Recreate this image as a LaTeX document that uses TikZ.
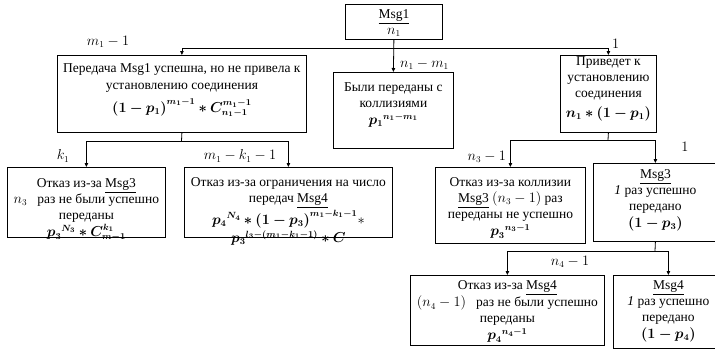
\documentclass[tikz,border=0pt]{standalone}
\usepackage{fontspec}
\setmainfont{Liberation Serif}
\usepackage{amsmath,bm}
\usetikzlibrary{arrows.meta}
\newcommand{\bxt}[4]{\parbox[c][#2pt][t]{#1pt}{\centering\vspace*{#3pt}#4\par}}
\begin{document}
\begin{tikzpicture}[x=1pt,y=-1pt,
  every node/.style={font=\fontsize{13.5}{16}\selectfont},
  box/.style={draw, line width=0.8pt, inner sep=0pt, anchor=north west},
  arr/.style={-{Triangle[length=4pt,width=3.5pt]}, line width=0.8pt},
  ln/.style={line width=0.8pt},
  lbl/.style={inner sep=0pt}]
\useasboundingbox (0,0) rectangle (715,351);
% boxes
\node[box] (msg1) at (345,4) {\bxt{97}{35}{5}{\underline{Msg1}\\ $n_1$}};
\node[box] (left) at (57,55) {\bxt{249}{77}{8}{Передача Msg1 успешна, но не привела к\\[1.5pt] установлению соединения\\[5pt] $\bm{(1-p_1)^{m_1-1} * C^{m_1-1}_{n_1-1}}$}};
\node[box] (mid) at (333,72) {\bxt{120}{76}{10}{Были переданы с\\ коллизиями\\[1pt] $\bm{{p_1}^{n_1-m_1}}$}};
\node[box] (right) at (560,55) {\bxt{96}{77}{1}{Приведет к\\ установлению\\ соединения\\[4pt] $\bm{n_1 * (1-p_1)}$}};
\node[box] (ll) at (7,167) {\bxt{158}{70}{11}{Отказ из-за \underline{Msg3}\\ $n_3$\ \ \ раз не были успешно\\ переданы\\[1.5pt] $\bm{{p_3}^{N_3} * C^{k_1}_{m-1}}$}};
\node[box] (lm) at (184,167) {\bxt{208}{70}{10}{Отказ из-за ограничения на число\\ передач \underline{Msg4}\\[1pt] $\bm{{p_4}^{N_4} * (1-p_3)^{m_1-k_1-1}} *$\\[2.5pt] $\bm{{p_3}^{l_3-(m_1-k_1-1)} * C}$}};
\node[box] (rl) at (435,167) {\bxt{150}{76}{10}{Отказ из-за коллизии\\ \underline{Msg3} $(n_3-1)$ раз\\ переданы не успешно\\[1.5pt] $\bm{{p_3}^{n_3-1}}$}};
\node[box] (rr) at (593,163) {\bxt{124}{78}{6}{\underline{Msg3}\\ \textit{1} раз успешно\\ передано\\[1pt] $\bm{(1-p_3)}$}};
\node[box] (bl) at (410,275) {\bxt{194}{70}{5}{Отказ из-за \underline{Msg4}\\ $(n_4-1)$\ \ \ раз не были успешно\\ переданы\\[1pt] $\bm{{p_4}^{n_4-1}}$}};
\node[box] (br) at (613,275) {\bxt{110}{73}{5}{\underline{Msg4}\\ \textit{1} раз успешно\\ передано\\[1pt] $\bm{(1-p_4)}$}};
% junctions
\coordinate (j1) at (393.5,48);
\coordinate (j2) at (181.5,141);
\coordinate (j3) at (608,140);
\coordinate (j4) at (655,251);
% connectors
\draw[arr] (msg1.south) -- (mid.north);
\draw[arr] (j1) -| (left.north);
\draw[arr] (j1) -| (right.north);
\draw[ln] (left.south) -- (j2);
\draw[arr] (j2) -| (ll.north);
\draw[arr] (j2) -| (lm.north);
\draw[ln] (right.south) -- (j3);
\draw[arr] (j3) -| (rl.north);
\draw[arr] (j3) -| (rr.north);
\draw[ln] (rr.south) -- (j4);
\draw[arr] (j4) -| (bl.north);
\draw[arr] (j4) -| (br.north);
% labels
\node[lbl] (l1) at (108,42) {$m_1-1$};
\node[lbl,anchor=west] (l2) at (400,64) {$n_1-m_1$};
\node[lbl,anchor=west] (l3) at (612,44) {$1$};
\node[lbl] (l4) at (63,156) {$k_1$};
\node[lbl] (l5) at (240,156) {$m_1-k_1-1$};
\node[lbl,anchor=east] (l6) at (506,157) {$n_3-1$};
\node[lbl] (l7) at (685,147) {$1$};
\node[lbl] (l8) at (570,262) {$n_4-1$};
\end{tikzpicture}
\end{document}
